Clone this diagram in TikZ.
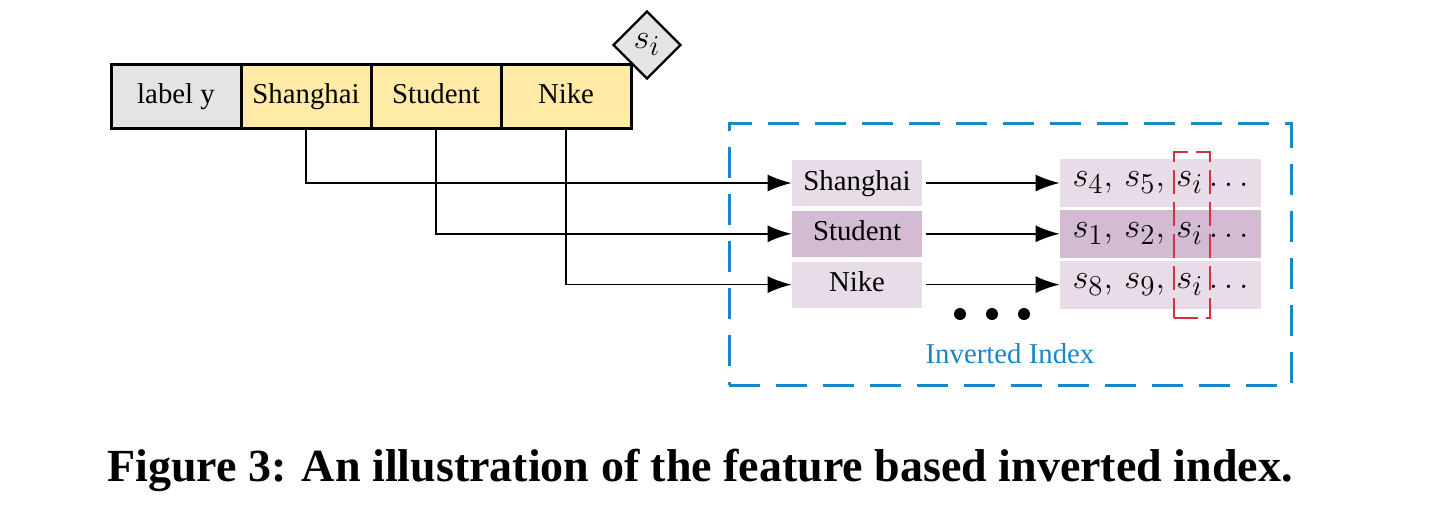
\documentclass[tikz,border=0pt]{standalone}
\usepackage{fontspec}
\setmainfont{Liberation Serif}
\usetikzlibrary{arrows.meta,positioning,shapes.geometric}
\definecolor{featyellow}{HTML}{FFEBA6}
\definecolor{labelgray}{HTML}{E4E4E4}
\definecolor{keylight}{HTML}{E8DCE8}
\definecolor{keydark}{HTML}{D3BCD3}
\definecolor{indexblue}{HTML}{1B86C6}
\definecolor{selred}{HTML}{D2323F}
\tikzset{
  txt/.style={font=\fontsize{14.4}{17}\selectfont},
  mathtxt/.style={font=\fontsize{19}{22}\selectfont},
  featbox/.style={txt,draw=black,line width=1.5pt,fill=featyellow,minimum width=65pt,minimum height=32pt,inner sep=0pt,outer sep=0pt,text height=10pt,text depth=3pt},
  keybox/.style={txt,fill=keylight,minimum width=65pt,minimum height=23pt,inner sep=0pt,text height=10pt,text depth=3pt},
  listbox/.style={mathtxt,fill=keylight,minimum width=100.5pt,minimum height=24pt,inner sep=0pt},
  link/.style={line width=0.8pt,-{Latex[length=12pt,width=8.5pt]}},
  dot/.style={circle,fill=black,minimum size=6pt,inner sep=0pt},
}

\begin{document}
\begin{tikzpicture}[x=0.5pt,y=-0.5pt]
  \useasboundingbox (0,0) rectangle (1447,511);
  % record with its features
  \node[featbox,fill=labelgray] (lab) at (176,96) {label y};
  \node[featbox,right=0pt of lab] (fShanghai) {Shanghai};
  \node[featbox,right=0pt of fShanghai] (fStudent) {Student};
  \node[featbox,right=0pt of fStudent] (fNike) {Nike};
  \node[mathtxt,diamond,draw=black,line width=1.2pt,fill=labelgray,minimum size=34pt,inner sep=0pt] (sid) at (647,45) {$s_i$};
  % inverted index
  \node[draw=indexblue,line width=1.5pt,dash pattern=on 15.5pt off 8pt,minimum width=281pt,minimum height=131pt] (inv) at (1010,254) {};
  \node[keybox] (kShanghai) at (857,183) {Shanghai};
  \node[keybox,fill=keydark,below=2pt of kShanghai] (kStudent) {Student};
  \node[keybox,below=2pt of kStudent] (kNike) {Nike};
  \node[listbox] (lShanghai) at (1160.5,183) {$s_4,\, s_5,\, s_i\ldots$};
  \node[listbox,fill=keydark] (lStudent) at (kStudent -| lShanghai) {$s_1,\, s_2,\, s_i\ldots$};
  \node[listbox] (lNike) at (kNike -| lShanghai) {$s_8,\, s_9,\, s_i\ldots$};
  \node[draw=selred,line width=1.3pt,dash pattern=on 12pt off 4pt,minimum width=18pt,minimum height=83pt] (sel) at (1192,235) {};
  \node[dot] (d1) at (960,314) {};
  \node[dot] (d2) at (992,314) {};
  \node[dot] (d3) at (1024,314) {};
  \node[txt,text=indexblue] (invlabel) at (1010,354) {Inverted Index};
  % connectors
  \draw[link] (fShanghai.south) |- (kShanghai.west);
  \draw[link] (fStudent.south) |- (kStudent.west);
  \draw[link] (fNike.south) |- (kNike.west);
  \draw[link,shorten <=2pt] (kShanghai.east) -- (lShanghai.west);
  \draw[link,shorten <=2pt] (kStudent.east) -- (lStudent.west);
  \draw[link,shorten <=2pt] (kNike.east) -- (lNike.west);
  \node[font=\fontsize{23}{27}\selectfont\bfseries] (caption) at (700,470) {Figure 3: An illustration of the feature based inverted index.};
\end{tikzpicture}
\end{document}
